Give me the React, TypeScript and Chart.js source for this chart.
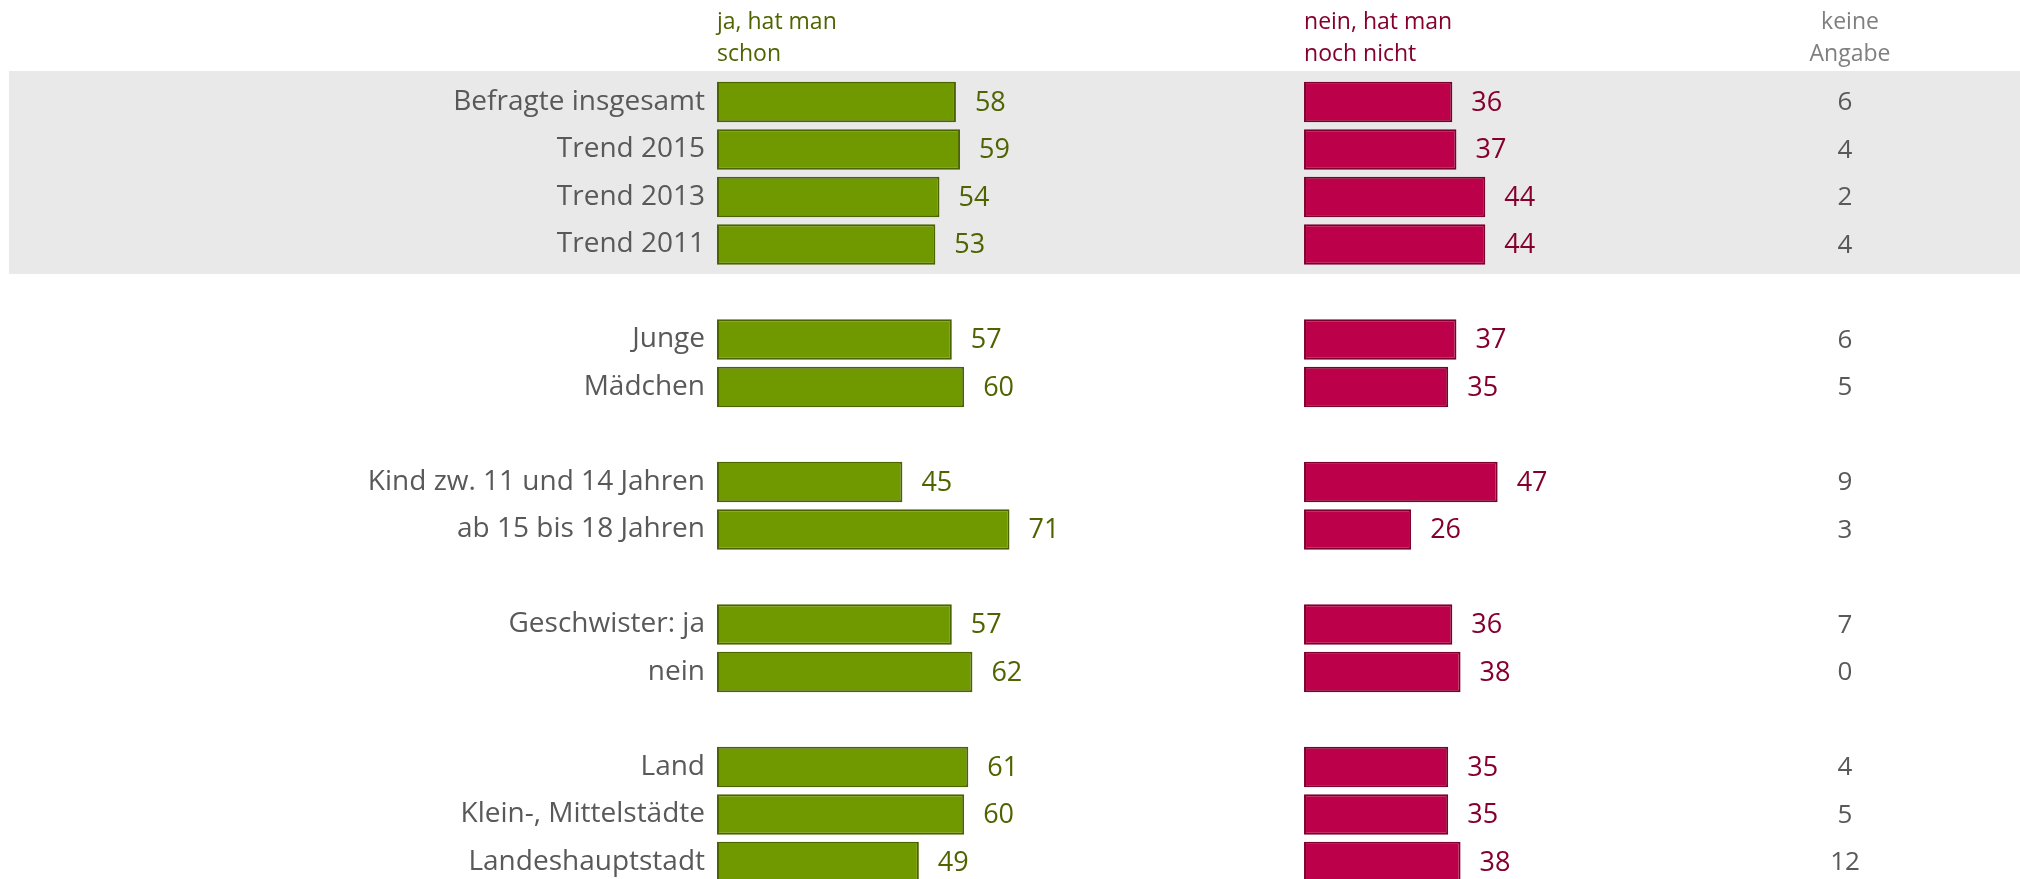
import React, { useEffect, useRef } from "react";
import { Chart, registerables } from "chart.js";

Chart.register(...registerables);

// ---- data ----
const categories = [
  "Befragte insgesamt",
  "Trend 2015",
  "Trend 2013",
  "Trend 2011",
  "",
  "Junge",
  "Mädchen",
  "",
  "Kind zw. 11 und 14 Jahren",
  "ab 15 bis 18 Jahren",
  "",
  "Geschwister: ja",
  "nein",
  "",
  "Land",
  "Klein-, Mittelstädte",
  "Landeshauptstadt",
];
const jaValues = [58, 59, 54, 53, null, 57, 60, null, 45, 71, null, 57, 62, null, 61, 60, 49];
const neinValues = [36, 37, 44, 44, null, 37, 35, null, 47, 26, null, 36, 38, null, 35, 35, 38];
const keineAngabeValues = [6, 4, 2, 4, null, 6, 5, null, 9, 3, null, 7, 0, null, 4, 5, 12];
const headerJa = ["ja, hat man", "schon"];
const headerNein = ["nein, hat man", "noch nicht"];
const headerKeine = ["keine", "Angabe"];
const highlightedRowCount = 4;

// ---- layout / style ----
const FONT = "'Open Sans', 'Noto Sans', sans-serif";
const X_MAX = 316.3;
const NEIN_OFFSET = 142.5;
const KEINE_X = 1845;
const KEINE_HEADER_X = 1850;

const GREEN = "#709900";
const GREEN_BORDER = "#4B6400";
const GREEN_TEXT = "#4F6400";
const RED = "#BC0049";
const RED_BORDER = "#7C002D";
const RED_TEXT = "#86002F";
const GRAY_TEXT = "#595959";
const HEADER_GRAY = "#7F7F7F";

export default function App() {
  const ref = useRef<HTMLCanvasElement>(null);

  useEffect(() => {
    const canvas = ref.current!;

    const bandPlugin = {
      id: "band",
      beforeDraw(chart: any) {
        const y = chart.scales.y;
        const ctx = chart.ctx;
        const step = y.getPixelForValue(1) - y.getPixelForValue(0);
        const top = y.getPixelForValue(0) - step * 0.653;
        const bottom = y.getPixelForValue(highlightedRowCount - 1) + step * 0.62;
        ctx.save();
        ctx.fillStyle = "#E9E9E9";
        ctx.fillRect(9, top, chart.width - 9, bottom - top);
        ctx.restore();
      },
    };

    const labelPlugin = {
      id: "labels",
      afterDatasetsDraw(chart: any) {
        const ctx = chart.ctx;
        const y = chart.scales.y;
        ctx.save();
        ctx.textBaseline = "middle";
        ctx.textAlign = "left";
        ctx.font = `27px ${FONT}`;
        const colors = [GREEN_TEXT, RED_TEXT];
        [0, 1].forEach((di) => {
          const meta = chart.getDatasetMeta(di);
          const data = chart.data.datasets[di].data;
          ctx.fillStyle = colors[di];
          meta.data.forEach((el: any, i: number) => {
            if (data[i] === null || data[i] === undefined) return;
            ctx.fillText(String(data[i]), el.x + 19, el.y + 1);
          });
        });
        ctx.font = `26px ${FONT}`;
        ctx.textAlign = "center";
        ctx.fillStyle = GRAY_TEXT;
        keineAngabeValues.forEach((v, i) => {
          if (v === null) return;
          ctx.fillText(String(v), KEINE_X, y.getPixelForValue(i) + 1);
        });

        // headers
        ctx.textBaseline = "alphabetic";
        ctx.font = `23px ${FONT}`;
        const baselines = [29, 61];
        ctx.textAlign = "left";
        ctx.fillStyle = GREEN_TEXT;
        const xJa = chart.scales.x.getPixelForValue(0);
        headerJa.forEach((t, i) => ctx.fillText(t, xJa, baselines[i]));
        ctx.fillStyle = RED_TEXT;
        const xNein = chart.scales.x2.getPixelForValue(0);
        headerNein.forEach((t, i) => ctx.fillText(t, xNein, baselines[i]));
        ctx.textAlign = "center";
        ctx.fillStyle = HEADER_GRAY;
        headerKeine.forEach((t, i) => ctx.fillText(t, KEINE_HEADER_X, baselines[i]));
        ctx.restore();
      },
    };

    const chart = new Chart(canvas, {
      type: "bar",
      data: {
        labels: categories,
        datasets: [
          {
            label: "ja, hat man schon",
            data: jaValues,
            xAxisID: "x",
            backgroundColor: GREEN,
            borderColor: GREEN_BORDER,
            borderWidth: 2,
            borderSkipped: false,
            grouped: false,
            barPercentage: 0.85,
            categoryPercentage: 1,
            clip: false,
          },
          {
            label: "nein, hat man noch nicht",
            data: neinValues,
            xAxisID: "x2",
            backgroundColor: RED,
            borderColor: RED_BORDER,
            borderWidth: 2,
            borderSkipped: false,
            grouped: false,
            barPercentage: 0.85,
            categoryPercentage: 1,
            clip: false,
          },
        ],
      },
      options: {
        indexAxis: "y",
        responsive: false,
        animation: false,
        devicePixelRatio: 1,
        layout: { padding: { top: 102, bottom: 17, left: 0, right: 0 } },
        plugins: {
          legend: { display: false },
          tooltip: { enabled: false },
        },
        scales: {
          x: {
            display: false,
            min: 0,
            max: X_MAX,
          },
          x2: {
            display: false,
            position: "bottom",
            min: -NEIN_OFFSET,
            max: X_MAX - NEIN_OFFSET,
          },
          y: {
            type: "category",
            offset: false,
            grid: { display: false, drawTicks: false },
            border: { display: false },
            ticks: {
              autoSkip: false,
              padding: 12,
              color: GRAY_TEXT,
              font: { family: FONT, size: 28 },
            },
            afterFit(scale: any) {
              scale.width = 717;
              scale.paddingTop = 0;
              scale.paddingBottom = 0;
            },
          },
        },
      },
      plugins: [bandPlugin, labelPlugin],
    } as any);

    return () => chart.destroy();
  }, []);

  return (
    <div style={{ position: "fixed", left: 0, top: 0, width: 2020, height: 879, background: "#fff" }}>
      <canvas ref={ref} width={2020} height={879} style={{ display: "block" }} />
    </div>
  );
}
